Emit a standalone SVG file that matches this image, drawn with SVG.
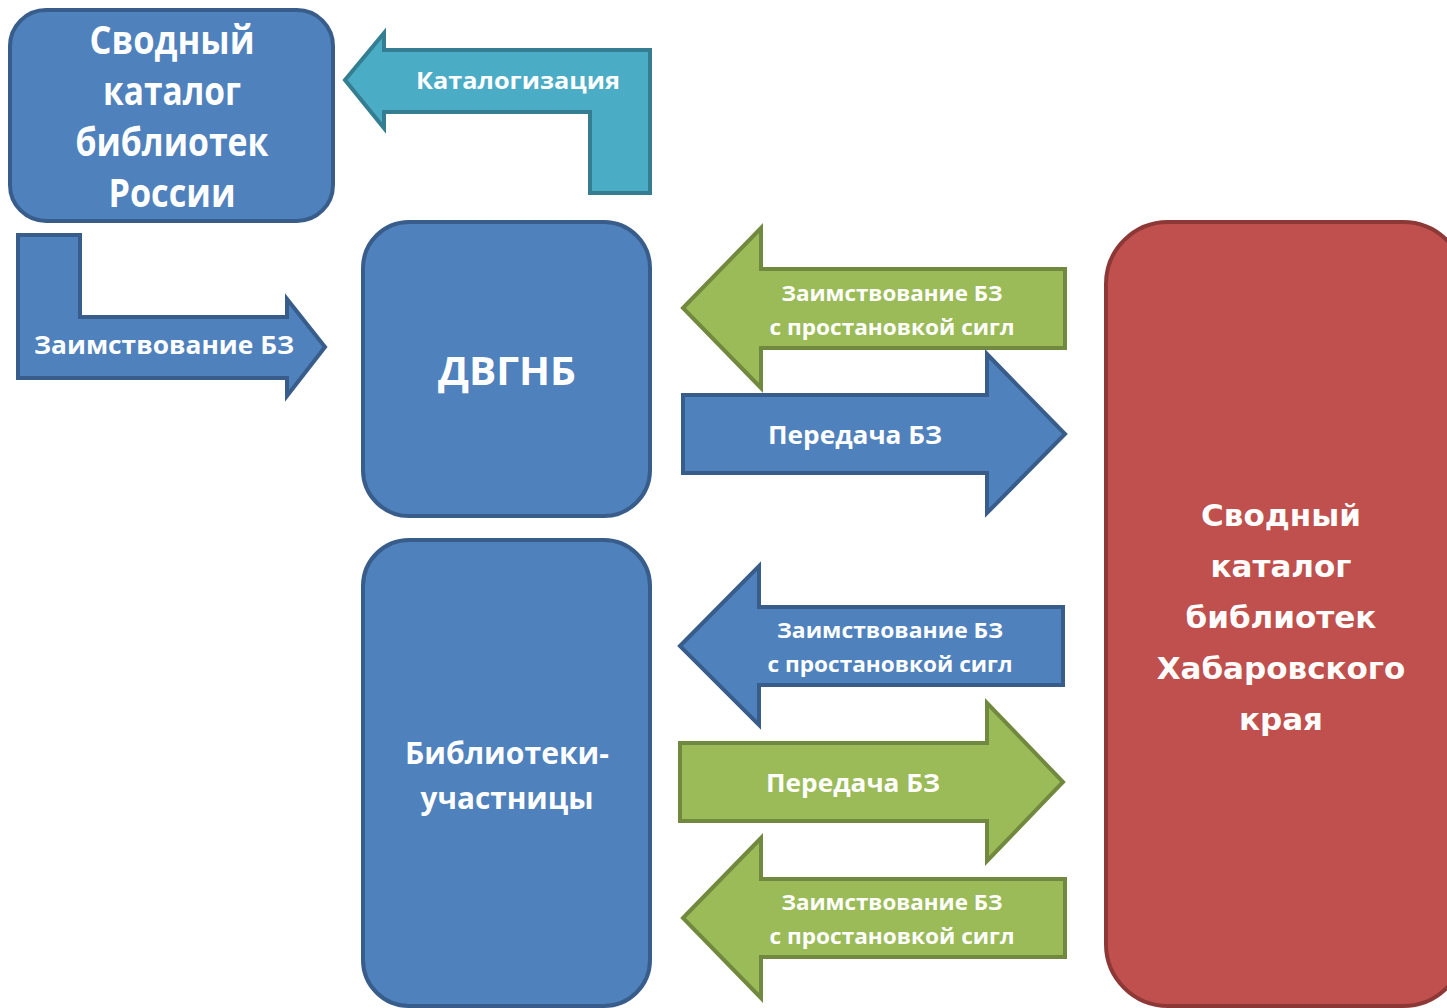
<svg xmlns="http://www.w3.org/2000/svg" width="1447" height="1008" viewBox="0 0 1447 1008">
<style>
.blue{fill:#4F81BD;stroke:#385D8A;stroke-width:4}
.green{fill:#9BBB59;stroke:#71893F;stroke-width:4}
.teal{fill:#4BACC6;stroke:#357D91;stroke-width:4}
.red{fill:#C0504D;stroke:#8C3836;stroke-width:4}
text{font-family:"Open Sans","Noto Sans",sans-serif;font-weight:bold;fill:#fff;text-anchor:middle}
.wide{font-family:"DejaVu Sans",Verdana,sans-serif;font-size:31px}
</style>
<rect width="1447" height="1008" fill="#fff"/>
<g id="node-russia">
<rect class="blue" x="10" y="10" width="323" height="211" rx="36"/>
<text x="172" y="54" font-size="40" textLength="165" lengthAdjust="spacingAndGlyphs">Сводный</text>
<text x="172" y="105" font-size="40" textLength="138" lengthAdjust="spacingAndGlyphs">каталог</text>
<text x="172" y="156" font-size="40" textLength="193" lengthAdjust="spacingAndGlyphs">библиотек</text>
<text x="172" y="207" font-size="40" textLength="127" lengthAdjust="spacingAndGlyphs">России</text>
</g>
<g id="node-dvgnb">
<rect class="blue" x="363" y="222" width="287" height="294" rx="46"/>
<text x="507" y="385" font-size="40" textLength="138" lengthAdjust="spacingAndGlyphs">ДВГНБ</text>
</g>
<g id="node-participants">
<rect class="blue" x="363" y="540" width="287" height="466" rx="46"/>
<text x="507" y="764" font-size="31" textLength="204" lengthAdjust="spacingAndGlyphs">Библиотеки-</text>
<text x="507" y="809" font-size="31" textLength="173" lengthAdjust="spacingAndGlyphs">участницы</text>
</g>
<g id="node-khabarovsk">
<rect class="red" x="1106" y="222" width="359" height="784" rx="62"/>
<text class="wide" x="1281" y="526">Сводный</text>
<text class="wide" x="1281" y="577">каталог</text>
<text class="wide" x="1281" y="628">библиотек</text>
<text class="wide" x="1281" y="679">Хабаровского</text>
<text class="wide" x="1281" y="730">края</text>
</g>
<g id="connectors">
<g id="arrow-catalog">
<polygon class="teal" points="345,80 384,33 384,50 650,50 650,193 590,193 590,112 384,112 384,128"/>
<text x="518" y="89" font-size="24" textLength="204" lengthAdjust="spacingAndGlyphs">Каталогизация</text>
</g>
<g id="arrow-borrow-russia">
<polygon class="blue" points="18,235 80,235 80,317 287,317 287,299 325,347 287,396 287,378 18,378"/>
<text x="164" y="354" font-size="25" textLength="260" lengthAdjust="spacingAndGlyphs">Заимствование  БЗ</text>
</g>
<g id="arrow-borrow-dvgnb">
<polygon class="green" points="683,308 761,228 761,269 1065,269 1065,348 761,348 761,388"/>
<text x="892" y="301" font-size="22" textLength="221" lengthAdjust="spacingAndGlyphs">Заимствование БЗ</text>
<text x="892" y="335" font-size="22" textLength="245" lengthAdjust="spacingAndGlyphs">с простановкой сигл</text>
</g>
<g id="arrow-transfer-dvgnb">
<polygon class="blue" points="683,395 987,395 987,354 1065,434 987,513 987,473 683,473"/>
<text x="855" y="444" font-size="25" textLength="174" lengthAdjust="spacingAndGlyphs">Передача БЗ</text>
</g>
<g id="arrow-borrow-participants-1">
<polygon class="blue" points="680,646 759,566 759,607 1063,607 1063,685 759,685 759,725"/>
<text x="890" y="638" font-size="22" textLength="226" lengthAdjust="spacingAndGlyphs">Заимствование  БЗ</text>
<text x="890" y="672" font-size="22" textLength="245" lengthAdjust="spacingAndGlyphs">с простановкой сигл</text>
</g>
<g id="arrow-transfer-participants">
<polygon class="green" points="680,743 987,743 987,703 1063,782 987,861 987,821 680,821"/>
<text x="853" y="792" font-size="25" textLength="174" lengthAdjust="spacingAndGlyphs">Передача БЗ</text>
</g>
<g id="arrow-borrow-participants-2">
<polygon class="green" points="683,918 761,838 761,879 1065,879 1065,957 761,957 761,998"/>
<text x="892" y="910" font-size="22" textLength="221" lengthAdjust="spacingAndGlyphs">Заимствование БЗ</text>
<text x="892" y="944" font-size="22" textLength="245" lengthAdjust="spacingAndGlyphs">с простановкой сигл</text>
</g>
</g>
</svg>
